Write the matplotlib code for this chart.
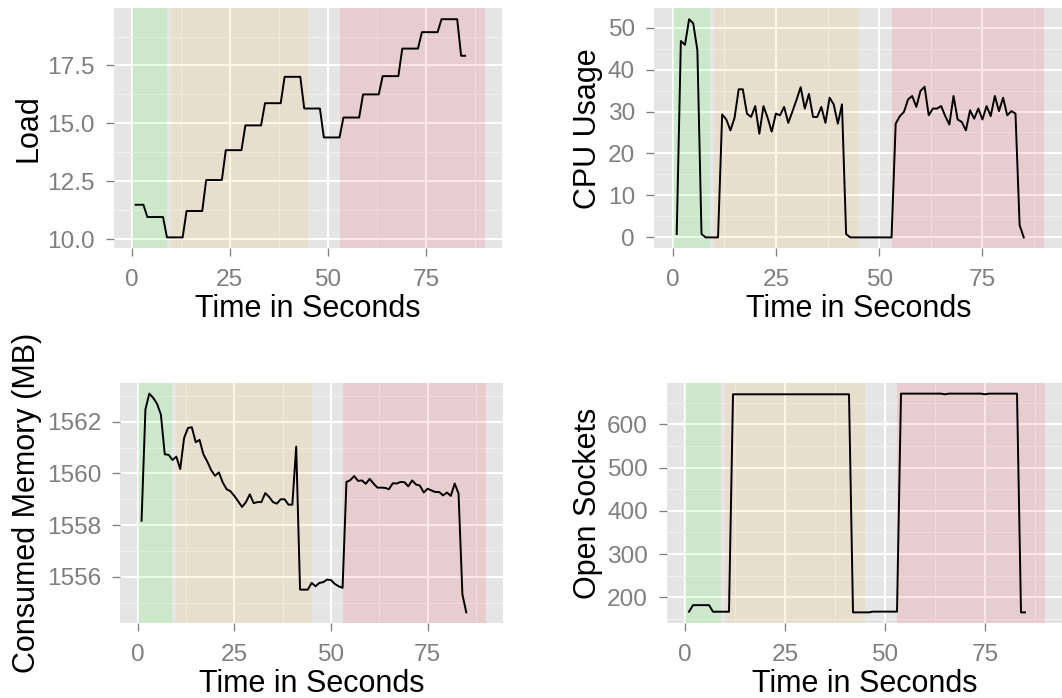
import matplotlib
matplotlib.use("Agg")
import matplotlib.pyplot as plt
from matplotlib.ticker import MultipleLocator, FormatStrFormatter

plt.rcParams['font.family'] = ['Liberation Sans', 'DejaVu Sans']

# sample times (one sample per second)
seconds = list(range(1, 86))

load = [
    11.48, 11.48, 11.48, 10.95, 10.95, 10.95, 10.95, 10.95, 10.07, 10.07,
    10.07, 10.07, 10.07, 11.21, 11.21, 11.21, 11.21, 11.21, 12.55, 12.55,
    12.55, 12.55, 12.55, 13.84, 13.84, 13.84, 13.84, 13.84, 14.91, 14.91,
    14.91, 14.91, 14.91, 15.87, 15.87, 15.87, 15.87, 15.87, 17.01, 17.01,
    17.01, 17.01, 17.01, 15.64, 15.64, 15.64, 15.64, 15.64, 14.39, 14.39,
    14.39, 14.39, 14.39, 15.25, 15.25, 15.25, 15.25, 15.25, 16.25, 16.25,
    16.25, 16.25, 16.25, 17.04, 17.04, 17.04, 17.04, 17.04, 18.23, 18.23,
    18.23, 18.23, 18.23, 18.94, 18.94, 18.94, 18.94, 18.94, 19.50, 19.50,
    19.50, 19.50, 19.50, 17.92, 17.92,
]

cpu = [
    0.8, 46.8, 45.9, 52.0, 51.0, 44.6, 0.8, 0.0, 0.0, 0.0,
    0.0, 29.3, 28.1, 25.5, 28.5, 35.3, 35.3, 29.5, 28.7, 31.3,
    24.7, 31.3, 28.5, 25.2, 29.5, 29.1, 31.1, 27.3, 30.0, 32.8,
    35.8, 30.7, 34.2, 28.7, 28.7, 31.1, 27.3, 33.3, 31.7, 27.1,
    31.7, 0.8, 0.0, 0.0, 0.0, 0.0, 0.0, 0.0, 0.0, 0.0,
    0.0, 0.0, 0.0, 27.1, 28.9, 29.9, 32.9, 33.7, 31.1, 34.9,
    35.9, 29.1, 30.7, 30.7, 31.3, 28.9, 26.9, 33.7, 28.1, 27.5,
    25.5, 30.3, 28.3, 30.7, 28.1, 31.3, 28.9, 33.7, 30.1, 33.3,
    29.1, 30.1, 29.5, 2.9, 0.0,
]

memory = [
    1558.17, 1562.48, 1563.09, 1562.93, 1562.70, 1562.28, 1560.74, 1560.72, 1560.52, 1560.65,
    1560.17, 1561.37, 1561.76, 1561.79, 1561.21, 1561.30, 1560.74, 1560.46, 1560.13, 1559.91,
    1560.04, 1559.65, 1559.39, 1559.31, 1559.13, 1558.92, 1558.70, 1558.89, 1559.19, 1558.85,
    1558.89, 1558.89, 1559.24, 1559.09, 1558.89, 1558.83, 1559.00, 1559.00, 1558.79, 1558.79,
    1561.04, 1555.50, 1555.50, 1555.50, 1555.76, 1555.63, 1555.76, 1555.79, 1555.89, 1555.87,
    1555.72, 1555.63, 1555.57, 1559.67, 1559.74, 1559.90, 1559.71, 1559.73, 1559.60, 1559.79,
    1559.61, 1559.45, 1559.45, 1559.44, 1559.39, 1559.62, 1559.61, 1559.67, 1559.66, 1559.50,
    1559.73, 1559.57, 1559.53, 1559.26, 1559.41, 1559.34, 1559.28, 1559.28, 1559.15, 1559.26,
    1559.13, 1559.61, 1559.22, 1555.31, 1554.62,
]

sockets = [
    166.8, 182.0, 182.0, 182.0, 182.0, 182.0, 166.8, 166.8, 166.8, 166.8,
    166.8, 669.5, 669.5, 669.5, 669.5, 669.5, 669.5, 669.5, 669.5, 669.5,
    669.5, 669.5, 669.5, 669.5, 669.5, 669.5, 669.5, 669.5, 669.5, 669.5,
    669.5, 669.5, 669.5, 669.5, 669.5, 669.5, 669.5, 669.5, 669.5, 669.5,
    669.5, 165.3, 165.3, 165.3, 165.3, 165.3, 167.0, 167.0, 167.0, 167.0,
    167.0, 167.0, 167.0, 671.0, 671.0, 671.0, 671.0, 671.0, 671.0, 671.0,
    671.0, 671.0, 671.0, 671.0, 669.5, 671.0, 671.0, 671.0, 671.0, 671.0,
    671.0, 671.0, 671.0, 671.0, 669.5, 671.0, 671.0, 671.0, 671.0, 671.0,
    671.0, 671.0, 671.0, 165.3, 165.3,
]

# test phases: warm-up, first load, second load
phase_start = [0, 10, 53]
phase_end = [9, 45, 90]
phase_color = ['#00FF00', '#FFA500', '#FF0000']

W, H = 1062, 698
GREY = '#7F7F7F'

fig = plt.figure(figsize=(W / 100, H / 100), dpi=100)


def panel(box, values, ylabel, major, minor, fmt, label_x):
    left, top, right, bottom = box
    ax = fig.add_axes([left / W, 1 - bottom / H, (right - left) / W, (bottom - top) / H])
    ax.set_facecolor('#E5E5E5')
    for s in ax.spines.values():
        s.set_visible(False)
    ax.set_axisbelow(True)
    ax.grid(which='major', color='white', linewidth=1.45)
    ax.grid(which='minor', color='#F2F2F2', linewidth=0.7)

    for x0, x1, c in zip(phase_start, phase_end, phase_color):
        ax.axvspan(x0, x1, color=c, alpha=0.1, linewidth=0)
    ax.plot(seconds, values, color='black', linewidth=1.4)

    # ggplot style 5% expansion
    ax.set_xlim(min(phase_start) - 4.5, max(phase_end) + 4.5)
    lo, hi = min(values), max(values)
    pad = 0.05 * (hi - lo)
    ax.set_ylim(lo - pad, hi + pad)

    ax.xaxis.set_major_locator(MultipleLocator(25))
    ax.xaxis.set_minor_locator(MultipleLocator(12.5))
    ax.yaxis.set_major_locator(MultipleLocator(major))
    ax.yaxis.set_minor_locator(MultipleLocator(minor))
    ax.yaxis.set_major_formatter(FormatStrFormatter(fmt))
    ax.tick_params(which='major', length=6.1, width=0.95, color=GREY,
                   labelcolor=GREY, labelsize=17.6)
    ax.tick_params(axis='x', pad=8.5)
    ax.tick_params(axis='y', pad=7.6)
    ax.tick_params(which='minor', length=0)

    ax.set_xlabel('Time in Seconds', fontsize=22, va='baseline')
    ax.xaxis.set_label_coords(0.5, -69 / (bottom - top))
    ax.set_ylabel(ylabel, fontsize=22, va='baseline')
    ax.yaxis.set_label_coords(-(left - label_x) / (right - left), 0.5)
    return ax


panel((114, 8.3, 502.3, 248.3), load, 'Load', 2.5, 1.25, '%.1f', 36.5)
panel((654, 8.3, 1063, 248.3), cpu, 'CPU Usage', 10, 5, '%d', 596)
panel((120.3, 382.7, 503, 623.3), memory, 'Consumed Memory (MB)', 2, 1, '%d', 35.5)
panel((667, 382.7, 1063, 623.3), sockets, 'Open Sockets', 100, 50, '%d', 596)

fig.savefig('out.png', dpi=100)
